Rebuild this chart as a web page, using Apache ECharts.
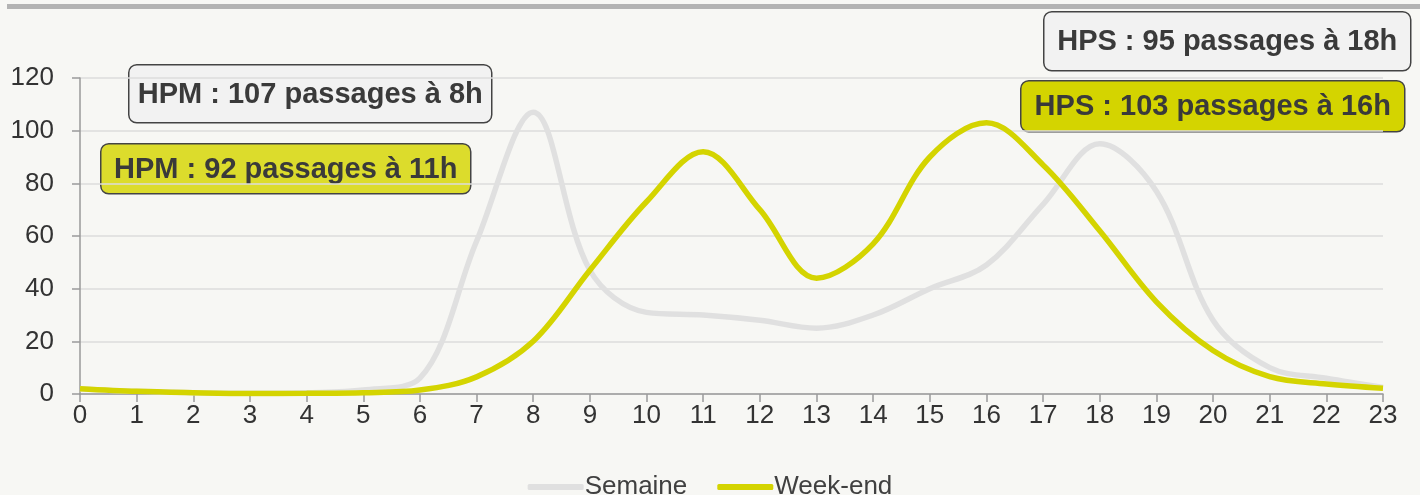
<!DOCTYPE html>
<html><head><meta charset="utf-8">
<script src="https://cdn.jsdelivr.net/npm/echarts@6/dist/echarts.min.js"></script>
<style>html,body{margin:0;padding:0;background:#f7f7f4;}#c{width:1420px;height:495px;}</style>
</head><body><div id="c"></div>
<script>
const hours = ['0','1','2','3','4','5','6','7','8','9','10','11','12','13','14','15','16','17','18','19','20','21','22','23'];
const semaine = [2,1,0.5,0.3,0.5,1.5,6,58,107,47,31,30,28,25,30,40,49,72,95,77,28,10,6,2.5];
const weekend = [2,1,0.5,0.2,0.3,0.5,1.5,6.5,20,47,73,92,70,44,57,90,103,87,62,35,16.5,6.6,3.8,2.2];
const notes = [
  {text:'HPM : 107 passages à 8h', x:128, y:64, w:363, h:58, bg:'#f2f2f2'},
  {text:'HPM : 92 passages à 11h', x:100, y:143, w:370, h:50, bg:'#dcdc2c'},
  {text:'HPS : 95 passages à 18h', x:1043, y:11, w:367, h:59, bg:'#f2f2f2'},
  {text:'HPS : 103 passages à 16h', x:1020, y:80, w:384, h:51, bg:'#d4d400'}
];
const chart = echarts.init(document.getElementById('c'));
const font = 'Liberation Sans, Arial, sans-serif';
chart.setOption({
  backgroundColor:'#f7f7f4',
  animation:false,
  grid:{left:80,right:37,top:78,bottom:101,containLabel:false},
  xAxis:{type:'category',data:hours,boundaryGap:false,
    axisLine:{lineStyle:{color:'#9a9a9a',width:1.5}},
    axisTick:{show:true,length:8,lineStyle:{color:'#9a9a9a',width:1.5}},
    axisLabel:{color:'#333',fontSize:26,fontFamily:font,margin:9},
    splitLine:{show:false}},
  yAxis:{type:'value',min:0,max:120,interval:20,
    axisLine:{show:true,lineStyle:{color:'#9a9a9a',width:1.5}},
    axisTick:{show:true,length:8,lineStyle:{color:'#9a9a9a',width:1.5}},
    axisLabel:{color:'#333',fontSize:26,fontFamily:font,margin:26},
    splitLine:{lineStyle:{color:'#dcdcdc',width:1.5}}},
  legend:{top:469,left:'center',itemWidth:56,itemHeight:6,itemGap:30,
    icon:'roundRect',
    textStyle:{color:'#404040',fontSize:26,fontFamily:font,padding:[0,0,0,-4]},
    data:['Semaine','Week-end']},
  series:[
    {name:'Semaine',type:'line',data:semaine,smooth:0.35,symbol:'none',
     lineStyle:{color:'#e0e0e0',width:5.5},itemStyle:{color:'#e0e0e0'}},
    {name:'Week-end',type:'line',data:weekend,smooth:0.35,symbol:'none',
     lineStyle:{color:'#d4d400',width:5.5},itemStyle:{color:'#d4d400'}}
  ],
  graphic:[
    {type:'rect',left:7,top:4,shape:{width:1413,height:5},style:{fill:'#b3b3b3'}}
  ].concat(notes.map(n=>({type:'group',left:n.x,top:n.y,z:100,children:[
    {type:'rect',shape:{x:0,y:0,width:n.w,height:n.h,r:8},
     style:{fill:n.bg,stroke:'#444',lineWidth:1.5}},
    {type:'text',x:n.w/2,y:n.h/2+1,
     style:{text:n.text,font:'bold 29px '+font,fill:'#3a3a3a',align:'center',verticalAlign:'middle'}}
  ]})))
});
</script></body></html>
